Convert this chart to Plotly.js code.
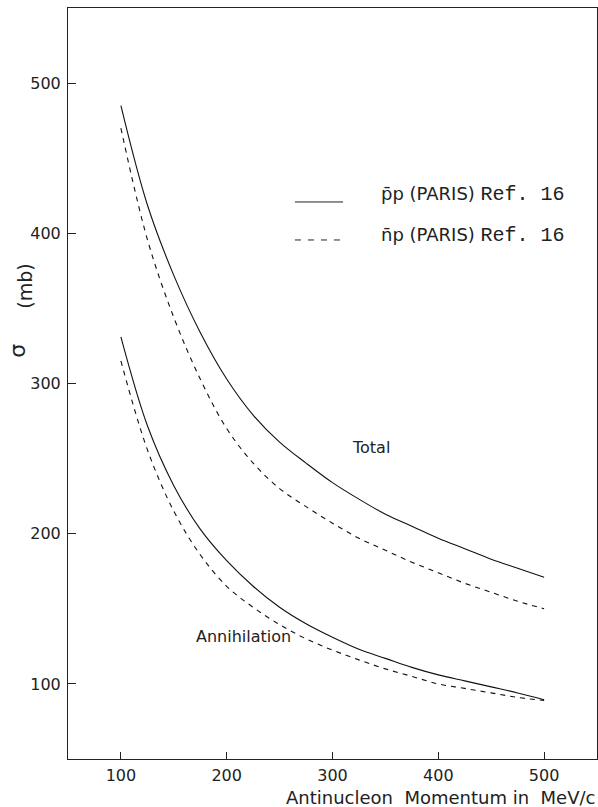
<!DOCTYPE html>
<html>
<head>
<meta charset="utf-8">
<script src="https://cdn.plot.ly/plotly-3.0.1.min.js"></script>
<style>html,body{margin:0;padding:0;background:#fff;}#chart{width:598px;height:807px;}</style>
</head>
<body>
<div id="chart"></div>
<script>
// Antinucleon momentum (MeV/c)
const momentum = [100, 125, 150, 175, 200, 225, 250, 275, 300, 325, 350, 375, 400, 425, 450, 475, 500];
// Total cross sections (mb)
const totalPbarP = [485, 419, 372, 334, 303, 279, 261, 247, 234, 223, 213, 205, 197, 190, 183, 177, 171];
const totalNbarP = [470, 396, 344, 303, 270, 247, 230, 218, 207, 197, 189, 181, 174, 167, 161, 155, 150];
// Annihilation cross sections (mb)
const annPbarP = [331, 272, 232, 203, 182, 165, 151, 140, 131, 123, 117, 111, 106, 102, 98, 94, 89.5];
const annNbarP = [315, 256, 215, 186, 165, 151, 139.5, 130, 122.5, 116, 110, 105, 100, 97, 94, 91, 89];

const xTicks = [100, 200, 300, 400, 500];
const yTicks = [100, 200, 300, 400, 500];
const seriesNames = ["p̄p (PARIS) Ref. 16", "n̄p (PARIS) Ref. 16"];

const solid = {color: '#111', width: 1.1, shape: 'spline', smoothing: 1};
const dashed = {color: '#111', width: 1.1, dash: '5px,5px', shape: 'spline', smoothing: 1};

const traces = [
  {x: momentum, y: totalPbarP, mode: 'lines', line: solid, name: seriesNames[0], showlegend: false},
  {x: momentum, y: totalNbarP, mode: 'lines', line: dashed, name: seriesNames[1], showlegend: false},
  {x: momentum, y: annPbarP, mode: 'lines', line: solid, name: seriesNames[0], showlegend: false},
  {x: momentum, y: annNbarP, mode: 'lines', line: dashed, name: seriesNames[1], showlegend: false}
];

const sans = 'DejaVu Sans, sans-serif';
const txt = '#222';
const refSpan = '<span style="font-family:Liberation Mono, monospace;font-size:20px">Ref. 16</span>';

const layout = {
  width: 598, height: 807,
  margin: {l: 68, r: 1, t: 8, b: 48, pad: 0},
  paper_bgcolor: '#fff', plot_bgcolor: '#fff',
  showlegend: false,
  xaxis: {
    range: [50, 550], tickvals: xTicks, ticktext: xTicks.map(String),
    ticks: 'inside', ticklen: 7, tickwidth: 1, tickcolor: '#222',
    showline: true, linecolor: '#222', linewidth: 1, mirror: true,
    showgrid: false, zeroline: false,
    tickfont: {family: sans, size: 16, color: txt}, ticklabelstandoff: 2
  },
  yaxis: {
    range: [50, 550], tickvals: yTicks, ticktext: yTicks.map(String),
    ticks: 'inside', ticklen: 8, tickwidth: 1, tickcolor: '#222',
    showline: true, linecolor: '#222', linewidth: 1, mirror: true,
    showgrid: false, zeroline: false,
    tickfont: {family: sans, size: 16, color: txt}, ticklabelstandoff: 3
  },
  shapes: [
    {type: 'line', xref: 'paper', yref: 'paper', x0: 0.429, x1: 0.520, y0: 0.7417, y1: 0.7417,
     line: {color: '#222', width: 1}},
    {type: 'line', xref: 'paper', yref: 'paper', x0: 0.429, x1: 0.520, y0: 0.6911, y1: 0.6911,
     line: {color: '#222', width: 1, dash: '6px,7px'}}
  ],
  annotations: [
    {xref: 'paper', yref: 'paper', x: 0.588, y: 0.751, xanchor: 'left', yanchor: 'middle', showarrow: false,
     text: 'p̄p (PARIS) ' + refSpan, font: {family: sans, size: 18, color: txt}},
    {xref: 'paper', yref: 'paper', x: 0.588, y: 0.6977, xanchor: 'left', yanchor: 'middle', showarrow: false,
     text: 'n̄p (PARIS) ' + refSpan, font: {family: sans, size: 18, color: txt}},
    {xref: 'x', yref: 'y', x: 336.6, y: 257.3, showarrow: false, text: 'Total',
     font: {family: sans, size: 16, color: txt}},
    {xref: 'x', yref: 'y', x: 216.2, y: 131.5, showarrow: false, text: 'Annihilation',
     font: {family: sans, size: 16, color: txt}},
    {xref: 'paper', yref: 'paper', x: 1.0, y: -0.0506, xanchor: 'right', yanchor: 'middle', showarrow: false,
     text: 'Antinucleon&nbsp;&nbsp;Momentum in&nbsp;&nbsp;MeV/c',
     font: {family: sans, size: 18, color: txt}},
    {xref: 'paper', yref: 'paper', x: -0.095, y: 0.5434, xanchor: 'center', yanchor: 'middle', showarrow: false,
     text: 'σ', textangle: -90, font: {family: sans, size: 22, color: txt}},
    {xref: 'paper', yref: 'paper', x: -0.082, y: 0.6298, xanchor: 'center', yanchor: 'middle', showarrow: false,
     text: '(mb)', textangle: -90, font: {family: sans, size: 19, color: txt}}
  ]
};

Plotly.newPlot('chart', traces, layout, {staticPlot: true, displayModeBar: false});
</script>
</body>
</html>
